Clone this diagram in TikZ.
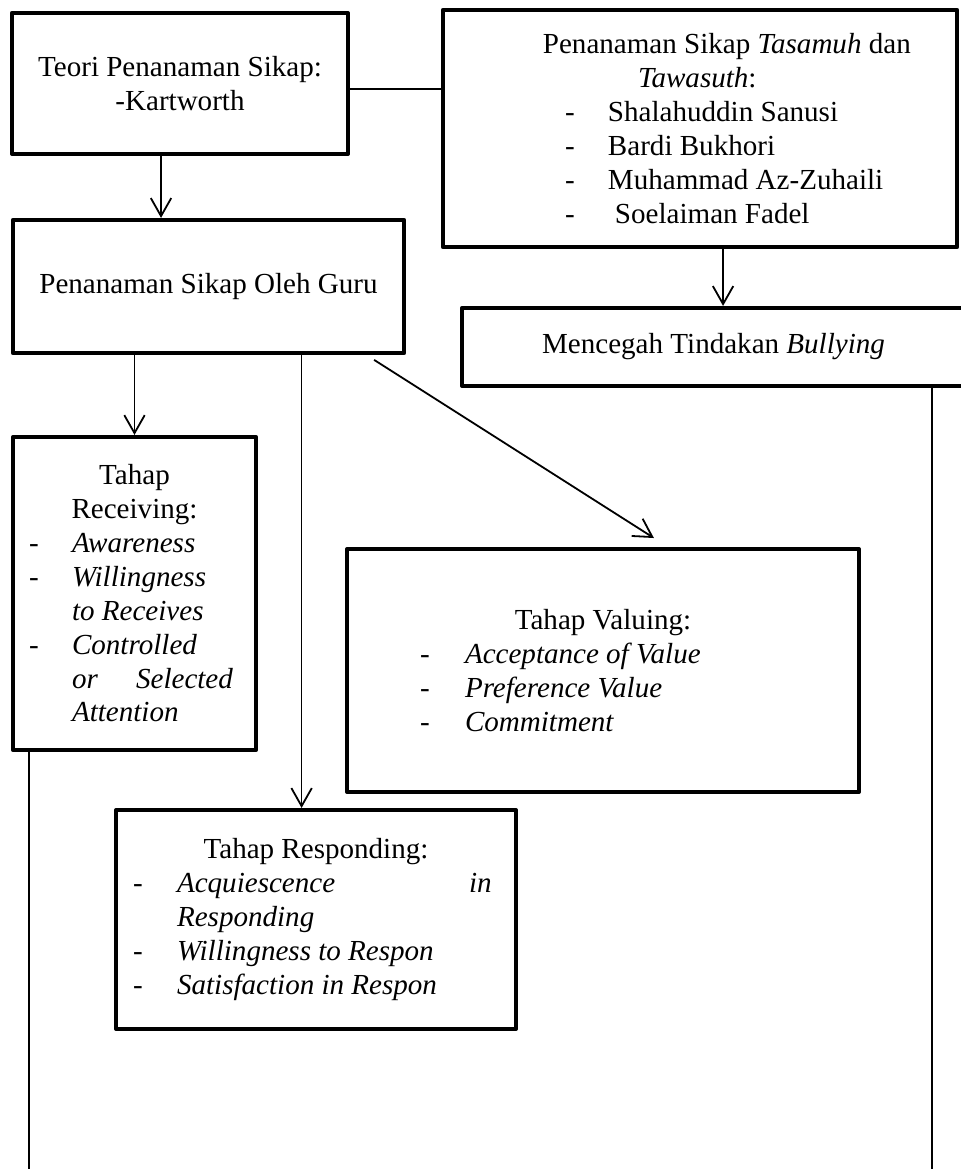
\documentclass[tikz,border=0pt]{standalone}
\usepackage{fontspec}
\setmainfont{Liberation Serif}
\usetikzlibrary{arrows.meta}

\newcommand{\rapat}{\spaceskip=0pt\relax\xspaceskip=0pt\relax}
\newcommand{\judul}[1]{\makebox[\linewidth][c]{#1}}
\newcommand{\butir}[3]{\hspace*{#1}\makebox[#2][l]{-}#3}

\tikzset{
  kotak/.style={draw, line width=1.7pt, line join=round, inner sep=0pt,
    font=\fontsize{12.1}{14.1}\selectfont},
  panah/.style={line width=0.75pt, -{Straight Barb[length=7.5pt,width=8.5pt]}},
  garis/.style={line width=0.6pt}
}

\begin{document}
\begin{tikzpicture}[x=0.4163pt, y=-0.4163pt]
\useasboundingbox (0,0) rectangle (961,1169);
\clip (0,0) rectangle (961,1169);

% kotak-kotak
\node[kotak, align=center, minimum width=139.9pt, minimum height=58.7pt] (teori) at (180,83.5)
  {\rapat Teori Penanaman Sikap:\\-Kartworth};
\node[kotak, align=left, text width=214pt, minimum width=214pt, minimum height=98.7pt] (tasamuh) at (700,128.5)
  {\rapat\hspace*{41.6pt}Penanaman Sikap \textit{Tasamuh} dan\\
   \hspace*{81.2pt}\textit{Tawasuth}:\\
   \butir{50.8pt}{17.9pt}{Shalahuddin Sanusi}\\
   \butir{50.8pt}{17.9pt}{Bardi Bukhori}\\
   \butir{50.8pt}{17.9pt}{Muhammad Az-Zuhaili}\\
   \butir{50.8pt}{20.8pt}{Soelaiman Fadel}};
\node[kotak, align=center, minimum width=162.8pt, minimum height=55.4pt] (guru) at (208.5,286.5)
  {\rapat Penanaman Sikap Oleh Guru};
\node[kotak, align=center, minimum width=209.4pt, minimum height=32.5pt] (bully) at (713.5,347)
  {\rapat Mencegah Tindakan \textit{Bullying}};
\node[kotak, align=left, text width=101.2pt, minimum width=101.2pt, minimum height=130.3pt] (recv) at (134.5,593.5)
  {\rapat\judul{Tahap}\\
   \judul{Receiving:}\\
   \butir{6.7pt}{17.9pt}{\textit{Awareness}}\\
   \butir{6.7pt}{17.9pt}{\textit{Willingness}}\\
   \hspace*{24.6pt}\textit{to Receives}\\
   \butir{6.7pt}{17.9pt}{\textit{Controlled}}\\
   \hspace*{24.6pt}\makebox[67pt][s]{\textit{or Selected}}\\
   \hspace*{24.6pt}\textit{Attention}};
\node[kotak, align=left, text width=213.1pt, minimum width=213.1pt, minimum height=101.2pt] (valu) at (603,670.5)
  {\rapat\judul{Tahap Valuing:}\\
   \butir{30.4pt}{18.7pt}{\textit{Acceptance of Value}}\\
   \butir{30.4pt}{18.7pt}{\textit{Preference Value}}\\
   \butir{30.4pt}{18.7pt}{\textit{Commitment}}};
\node[kotak, align=left, text width=166.5pt, minimum width=166.5pt, minimum height=91.2pt] (resp) at (316,919.5)
  {\rapat\judul{Tahap Responding:}\\
   \butir{7.1pt}{18.3pt}{\makebox[131pt][s]{\textit{Acquiescence in}}}\\
   \hspace*{25.4pt}\textit{Responding}\\
   \butir{7.1pt}{18.3pt}{\textit{Willingness to Respon}}\\
   \butir{7.1pt}{18.3pt}{\textit{Satisfaction in Respon}}};

% penghubung
\coordinate (atas) at ([xshift=-7.9pt]teori.south);
\coordinate (samping) at ([yshift=-2.3pt]teori.east);
\coordinate (tengah) at ([xshift=9.6pt]tasamuh.south);
\coordinate (turun) at ([xshift=-6pt]resp.north);
\coordinate (ujungkiri) at (29,1175);
\coordinate (ujungkanan) at (932,1175);

\draw[panah] (atas) -- (atas |- guru.north);
\draw[garis] (samping) -- (samping -| tasamuh.west);
\draw[panah] (tengah) -- (tengah |- bully.north);
\draw[panah] (recv.north |- guru.south) -- (recv.north);
\draw[panah] (turun |- guru.south) -- (turun);
\draw[panah] ([shift={(-13.3pt,-2pt)}]guru.south east) -- ([shift={(21.2pt,3.7pt)}]valu.north);
\draw[garis] (ujungkiri |- recv.south) -- (ujungkiri);
\draw[garis] (ujungkanan |- bully.south) -- (ujungkanan);
\end{tikzpicture}
\end{document}
